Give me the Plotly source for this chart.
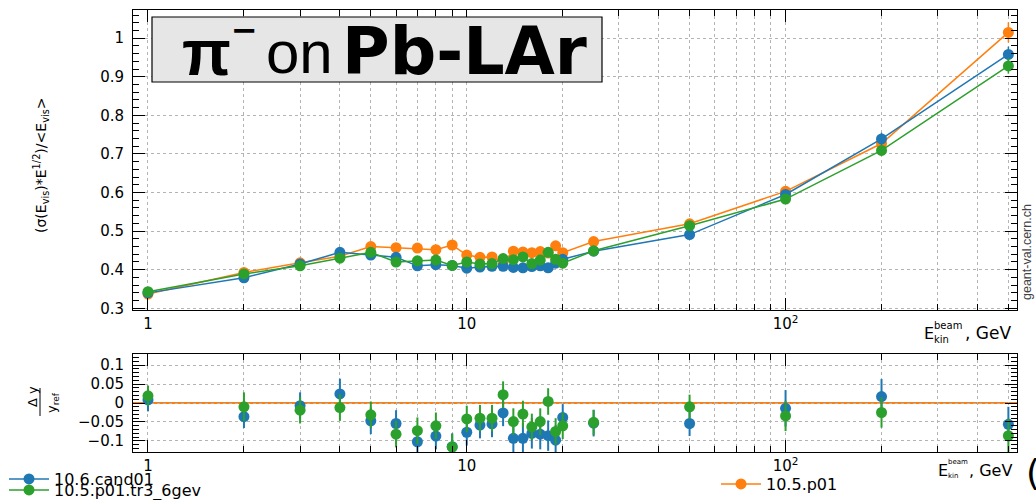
import plotly.graph_objects as go

# ---------------- data ----------------
energy = [1, 2, 3, 4, 5, 6, 7, 8, 9, 10, 11, 12, 13, 14, 15, 16, 17, 18, 19, 20, 25, 50, 100, 200, 500]

ref_name = "10.5.p01"
ref_vals = [0.337, 0.393, 0.418, 0.435, 0.460, 0.457, 0.456, 0.452, 0.464, 0.438, 0.432, 0.433, 0.420,
            0.448, 0.446, 0.444, 0.447, 0.443, 0.462, 0.444, 0.473, 0.519, 0.603, 0.727, 1.015]
ref_err = [0.004, 0.004, 0.004, 0.005, 0.005, 0.005, 0.005, 0.005, 0.005, 0.005, 0.005, 0.005, 0.005,
           0.005, 0.005, 0.005, 0.005, 0.005, 0.005, 0.005, 0.006, 0.008, 0.010, 0.014, 0.026]

cand_name = "10.6.cand01"
cand_vals = [0.340, 0.379, 0.415, 0.445, 0.438, 0.432, 0.410, 0.413, 0.411, 0.404, 0.407, 0.409, 0.409,
             0.406, 0.405, 0.408, 0.410, 0.405, 0.417, 0.427, 0.448, 0.491, 0.595, 0.739, 0.958]
cand_err = [0.004, 0.004, 0.004, 0.005, 0.005, 0.005, 0.005, 0.005, 0.005, 0.005, 0.005, 0.005, 0.005,
            0.005, 0.005, 0.005, 0.005, 0.005, 0.005, 0.005, 0.006, 0.008, 0.010, 0.016, 0.020]

tr3_name = "10.5.p01.tr3_6gev"
tr3_vals = [0.343, 0.389, 0.410, 0.430, 0.445, 0.420, 0.423, 0.425, 0.411, 0.420, 0.415, 0.416, 0.429,
            0.426, 0.433, 0.416, 0.425, 0.445, 0.427, 0.417, 0.449, 0.514, 0.583, 0.709, 0.928]
tr3_err = [0.004, 0.004, 0.004, 0.005, 0.005, 0.005, 0.005, 0.005, 0.005, 0.005, 0.005, 0.005, 0.005,
           0.005, 0.005, 0.005, 0.005, 0.005, 0.005, 0.005, 0.006, 0.008, 0.010, 0.014, 0.020]

# relative differences to reference
cand_ratio = [0.008, -0.036, -0.007, 0.024, -0.047, -0.054, -0.102, -0.087, -0.115, -0.077, -0.058, -0.055, -0.026,
              -0.093, -0.093, -0.080, -0.082, -0.086, -0.098, -0.038, -0.053, -0.054, -0.014, 0.017, -0.056]
cand_ratio_err = [0.030, 0.030, 0.035, 0.040, 0.035, 0.035, 0.035, 0.035, 0.035, 0.035, 0.035, 0.035, 0.035,
                  0.040, 0.040, 0.040, 0.040, 0.040, 0.040, 0.035, 0.035, 0.033, 0.048, 0.046, 0.046]
tr3_ratio = [0.019, -0.010, -0.019, -0.012, -0.031, -0.082, -0.073, -0.060, -0.116, -0.042, -0.040, -0.040, 0.022,
             -0.049, -0.029, -0.063, -0.049, 0.004, -0.075, -0.060, -0.051, -0.010, -0.034, -0.025, -0.086]
tr3_ratio_err = [0.027, 0.038, 0.035, 0.035, 0.035, 0.035, 0.035, 0.035, 0.035, 0.035, 0.035, 0.035, 0.035,
                 0.035, 0.035, 0.035, 0.035, 0.035, 0.035, 0.035, 0.033, 0.032, 0.040, 0.040, 0.045]

x_tickvals = [1, 10, 100]
x_ticktext = ["1", "10", "10<sup>2</sup>"]
y_main_ticks = [0.3, 0.4, 0.5, 0.6, 0.7, 0.8, 0.9, 1.0]
y_main_text = ["0.3", "0.4", "0.5", "0.6", "0.7", "0.8", "0.9", "1"]
y_ratio_ticks = [-0.1, -0.05, 0, 0.05, 0.1]
y_ratio_text = ["\u22120.1", "\u22120.05", "0", "0.05", "0.1"]

# ---------------- style ----------------
BLUE, ORANGE, GREEN = "#1f77b4", "#ff7f0e", "#2ca02c"
FONT = "DejaVu Sans, sans-serif"
FONT2 = "Liberation Sans, Arial, sans-serif"
W, H = 1036, 500
ML, MR, MT, MB = 133, 19, 10, 48
PW, PH = W - ML - MR, H - MT - MB


def px(xp):
    return (xp - ML) / PW


def py(yp):
    return (H - MB - yp) / PH


main_dom = [py(310), 1.0]
ratio_dom = [0.0, py(354)]

fig = go.Figure()

series = [
    (ref_name, ref_vals, ref_err, ORANGE, "legend3"),
    (cand_name, cand_vals, cand_err, BLUE, "legend"),
    (tr3_name, tr3_vals, tr3_err, GREEN, "legend2"),
]
for name, vals, err, col, leg in series:
    fig.add_trace(go.Scatter(
        x=energy, y=vals, name=name, mode="lines+markers",
        line=dict(color=col, width=1.5),
        marker=dict(color=col, size=11),
        error_y=dict(type="data", array=err, color=col, width=0, thickness=1.5),
        xaxis="x", yaxis="y", legend=leg, showlegend=True,
    ))

for name, vals, err, col in [(cand_name, cand_ratio, cand_ratio_err, BLUE),
                             (tr3_name, tr3_ratio, tr3_ratio_err, GREEN)]:
    fig.add_trace(go.Scatter(
        x=energy, y=vals, name=name, mode="markers",
        marker=dict(color=col, size=11),
        error_y=dict(type="data", array=err, color=col, width=0, thickness=2),
        xaxis="x2", yaxis="y2", showlegend=False,
    ))

xr = [-0.047, 2.726]
minor_x = [m * 10 ** d for d in range(0, 3) for m in range(2, 10) if m * 10 ** d < 540]
GRID = "#b4b4b4"
common_x = dict(
    type="log", range=xr, tickmode="array", tickvals=x_tickvals, ticktext=x_ticktext,
    ticks="inside", ticklen=12, tickcolor="black", showline=True, linecolor="black", linewidth=1,
    mirror="allticks", showgrid=True, gridcolor=GRID, griddash="dot", gridwidth=1,
    zeroline=False, tickfont=dict(family=FONT, size=15, color="black"),
    minor=dict(tickmode="array", tickvals=minor_x, ticks="inside", ticklen=6, tickcolor="black",
               showgrid=True, gridcolor=GRID, griddash="dot", gridwidth=1),
)

leg_common = dict(bgcolor="rgba(0,0,0,0)", font=dict(family=FONT, size=16, color="black"),
                  itemwidth=40, xanchor="left", yanchor="middle", borderwidth=0)

fig.update_layout(
    width=W, height=H, margin=dict(l=ML, r=MR, t=MT, b=MB, autoexpand=False),
    paper_bgcolor="white", plot_bgcolor="white",
    font=dict(family=FONT, color="black"),
    xaxis=dict(domain=[0, 1], anchor="y", **common_x),
    xaxis2=dict(domain=[0, 1], anchor="y2", matches="x", **common_x),
    yaxis=dict(domain=main_dom, anchor="x", range=[0.2956, 1.073], tickmode="array",
               tickvals=y_main_ticks, ticktext=y_main_text, ticks="inside", ticklen=12,
               tickcolor="black", showline=True, linecolor="black", linewidth=1, mirror="allticks",
               showgrid=True, gridcolor=GRID, griddash="dot", zeroline=False,
               ticklabelstandoff=5, tickfont=dict(family=FONT, size=15, color="black"),
               minor=dict(dtick=0.02, tick0=0.3, ticks="inside", ticklen=6, tickcolor="black",
                          showgrid=False)),
    yaxis2=dict(domain=ratio_dom, anchor="x2", range=[-0.129, 0.129], tickmode="array",
                tickvals=y_ratio_ticks, ticktext=y_ratio_text, ticks="inside", ticklen=12,
                tickcolor="black", showline=True, linecolor="black", linewidth=1, mirror="allticks",
                showgrid=True, gridcolor=GRID, griddash="dot", zeroline=False,
                ticklabelstandoff=5, tickfont=dict(family=FONT, size=15, color="black"),
                minor=dict(dtick=0.01, tick0=0, ticks="inside", ticklen=6, tickcolor="black",
                           showgrid=False)),
    legend=dict(x=px(4), y=py(479), **leg_common),
    legend2=dict(x=px(4), y=py(490), **leg_common),
    legend3=dict(x=px(716), y=py(484), **leg_common),
)

# reference line in ratio panel
fig.add_shape(type="line", xref="x2 domain", yref="y2", x0=0, x1=1, y0=0, y1=0,
              line=dict(color=ORANGE, width=2), layer="below")

# title box
fig.add_shape(type="rect", xref="paper", yref="paper", x0=px(152), x1=px(602), y0=py(82), y1=py(17),
              fillcolor="#e6e6e6", line=dict(color="black", width=1.2))
fig.add_annotation(xref="paper", yref="paper", x=px(206), y=py(53), showarrow=False,
                   text="<b>\u03c0</b>", font=dict(family=FONT2, size=64, color="black"),
                   xanchor="center", yanchor="middle")
fig.add_annotation(xref="paper", yref="paper", x=px(244), y=py(30), showarrow=False,
                   text="<b>\u2212</b>", font=dict(family=FONT, size=32, color="black"),
                   xanchor="center", yanchor="middle")
fig.add_annotation(xref="paper", yref="paper", x=px(299), y=py(53), showarrow=False,
                   text="on", font=dict(family=FONT2, size=60, color="black"),
                   xanchor="center", yanchor="middle")
fig.add_annotation(xref="paper", yref="paper", x=px(464), y=py(51), showarrow=False,
                   text="<b>Pb-LAr</b>", font=dict(family=FONT, size=65, color="black"),
                   xanchor="center", yanchor="middle")

# y-axis titles
fig.add_annotation(xref="paper", yref="paper", x=px(41), y=py(165), showarrow=False, textangle=-90,
                   text="(\u03c3(E<sub>vis</sub>)*E<sup>1/2</sup>)/<E<sub>vis</sub>>",
                   font=dict(family=FONT, size=14, color="black"), xanchor="center", yanchor="middle")
fig.add_annotation(xref="paper", yref="paper", x=px(32), y=py(397), showarrow=False, textangle=-90,
                   text="\u0394 y", font=dict(family=FONT, size=13, color="black"),
                   xanchor="center", yanchor="middle")
fig.add_annotation(xref="paper", yref="paper", x=px(52), y=py(403), showarrow=False, textangle=-90,
                   text="y<sub>ref</sub>", font=dict(family=FONT, size=13, color="black"),
                   xanchor="center", yanchor="middle")
fig.add_shape(type="line", xref="paper", yref="paper", x0=px(40), x1=px(40), y0=py(388), y1=py(416),
              line=dict(color="black", width=1))

# x-axis titles (E with stacked super/subscript)
for ybase, xe, ssize, xg in [(333, 922, 10, 963), (470, 936, 7, 967)]:
    fig.add_annotation(xref="paper", yref="paper", x=px(xe), y=py(ybase), showarrow=False,
                       text="E", font=dict(family=FONT, size=16, color="black"),
                       xanchor="left", yanchor="middle")
    fig.add_annotation(xref="paper", yref="paper", x=px(xe + 10), y=py(ybase - 8), showarrow=False,
                       text="beam", font=dict(family=FONT, size=ssize, color="black"),
                       xanchor="left", yanchor="middle")
    fig.add_annotation(xref="paper", yref="paper", x=px(xe + 10), y=py(ybase + 6), showarrow=False,
                       text="kin", font=dict(family=FONT, size=ssize, color="black"),
                       xanchor="left", yanchor="middle")
    fig.add_annotation(xref="paper", yref="paper", x=px(xg), y=py(ybase), showarrow=False,
                       text=", GeV", font=dict(family=FONT, size=17 if ssize == 10 else 16, color="black"),
                       xanchor="left", yanchor="middle")

# watermark
fig.add_annotation(xref="paper", yref="paper", x=px(1027), y=py(252), showarrow=False, textangle=-90,
                   text="geant-val.cern.ch", font=dict(family=FONT2, size=12.5, color="#444444"),
                   xanchor="center", yanchor="middle")
fig.add_annotation(xref="paper", yref="paper", x=px(1024), y=py(472), showarrow=False,
                   text="(", font=dict(family=FONT, size=36, color="black"),
                   xanchor="left", yanchor="middle")

fig.write_html("out.html")
